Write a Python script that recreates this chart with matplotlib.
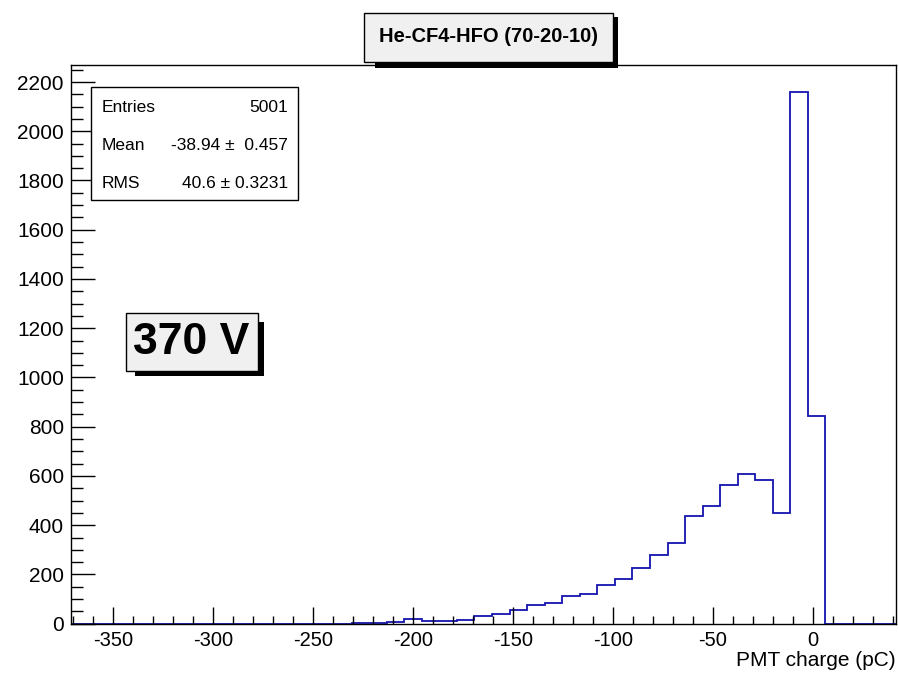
import numpy as np
import matplotlib
matplotlib.use('Agg')
import matplotlib.pyplot as plt
from matplotlib.patches import Rectangle
from matplotlib.ticker import MultipleLocator

plt.rcParams['font.family'] = ['Liberation Sans', 'DejaVu Sans']
plt.rcParams['axes.unicode_minus'] = False

# ---------------- histogram data ----------------
x_lo, x_hi, n_bins = -371.2, 41.4, 47
counts = [0, 0, 0, 0, 0, 0, 0, 0, 0, 0,
          0, 0, 0, 0, 0, 0, 2, 3, 6, 18,
          10, 11, 15, 31, 38, 56, 76, 83, 112, 122,
          159, 181, 227, 277, 328, 439, 480, 563, 608, 582,
          450, 2161, 844, 0, 0, 0, 0]
edges = np.linspace(x_lo, x_hi, n_bins + 1)

title = 'He-CF4-HFO (70-20-10)'
voltage = '370 V'
stat_names = ['Entries', 'Mean', 'RMS']
stat_values = ['5001', '-38.94 \u00b1  0.457', '40.6 \u00b1 0.3231']

# ---------------- canvas ----------------
W, H = 899, 675
fig = plt.figure(figsize=(W / 100, H / 100), dpi=100)
ax = fig.add_axes([70.7 / W, 1 - 623.7 / H, (895.7 - 70.7) / W, (623.7 - 65) / H])

ax.stairs(counts, edges, color='#1414b0', linewidth=1.3)

ax.set_xlim(x_lo, x_hi)
ax.set_ylim(0, 1.05 * max(counts))

ax.xaxis.set_major_locator(MultipleLocator(50))
ax.xaxis.set_minor_locator(MultipleLocator(10))
ax.yaxis.set_major_locator(MultipleLocator(200))
ax.yaxis.set_minor_locator(MultipleLocator(50))

ax.tick_params(axis='both', which='both', direction='in', top=False, right=False, width=1)
ax.tick_params(axis='x', which='major', length=12.2, pad=5, labelsize=14.5)
ax.tick_params(axis='x', which='minor', length=6)
ax.tick_params(axis='y', which='major', length=17, pad=5, labelsize=15)
ax.tick_params(axis='y', which='minor', length=8.6)
for s in ax.spines.values():
    s.set_linewidth(1)

fig.text(895.7 / W, 1 - 660 / H, 'PMT charge (pC)', ha='right', va='center', fontsize=15)


def fig_box(x0, y0, x1, y1, **kw):
    # rectangle given in pixels from the top-left corner of the canvas
    r = Rectangle((x0 / W, 1 - y1 / H), (x1 - x0) / W, (y1 - y0) / H,
                  transform=fig.transFigure, **kw)
    fig.add_artist(r)


# title pave with shadow
fig_box(375, 17, 618.3, 68.3, facecolor='black', edgecolor='none', zorder=2)
fig_box(364, 12.7, 613.3, 61.7, facecolor='#f0f0f0', edgecolor='black', linewidth=1, zorder=2.1)
fig.text(488.7 / W, 1 - 37 / H, title, ha='center', va='center',
         fontsize=14.5, fontweight='bold', zorder=3)

# statistics box
fig_box(90.7, 87.3, 298.3, 200, facecolor='white', edgecolor='black', linewidth=1, zorder=2)
for name, val, yp in zip(stat_names, stat_values, [108, 146, 183]):
    fig.text(101.7 / W, 1 - yp / H, name, ha='left', va='center', fontsize=12.5, zorder=3)
    fig.text(288 / W, 1 - yp / H, val, ha='right', va='center', fontsize=12.5, zorder=3)

# voltage label with shadow
fig_box(135, 321.7, 264, 376, facecolor='black', edgecolor='none', zorder=2)
fig_box(126, 312.7, 257.7, 370.7, facecolor='#f0f0f0', edgecolor='black', linewidth=1, zorder=2.1)
fig.text(191 / W, 1 - 343 / H, voltage, ha='center', va='center',
         fontsize=32, fontweight='bold', zorder=3)

fig.savefig('out.png', dpi=100)
